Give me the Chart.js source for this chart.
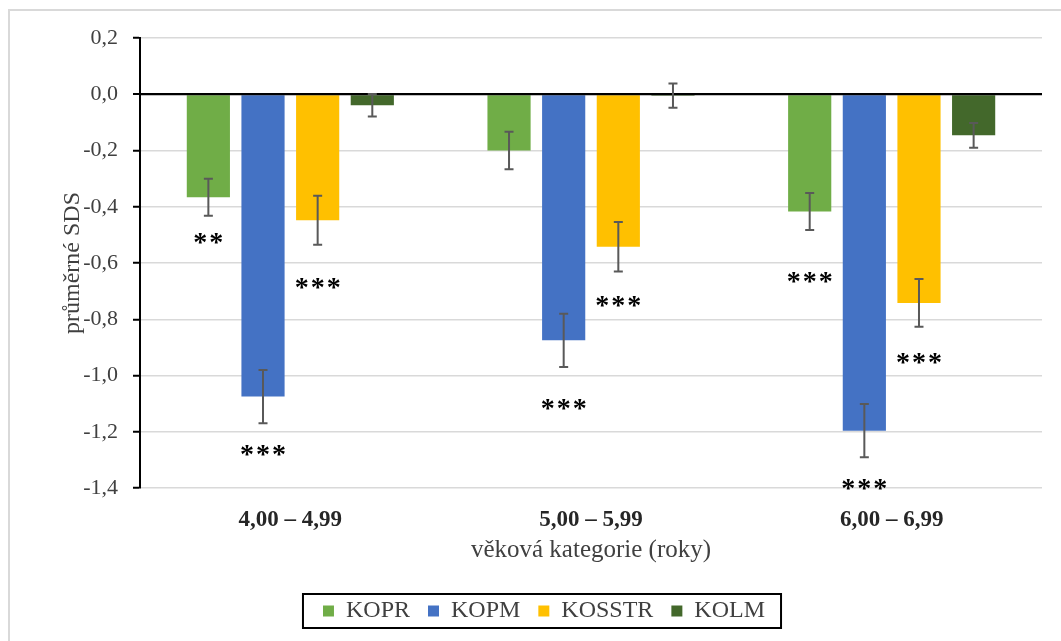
<!DOCTYPE html>
<html>
<head>
<meta charset="utf-8">
<script src="https://cdn.jsdelivr.net/npm/chart.js@4.4.1/dist/chart.umd.min.js"></script>
<style>
  html, body { margin: 0; padding: 0; background: #fff; }
  #wrap { width: 1061px; height: 641px; position: relative; }
</style>
</head>
<body>
<div id="wrap"><canvas id="sdsChart" width="1061" height="641"></canvas></div>
<script>
const categories = ["4,00 – 4,99", "5,00 – 5,99", "6,00 – 6,99"];

const kopr   = [-0.366, -0.200, -0.417];
const kopm   = [-1.075, -0.875, -1.196];
const kosstr = [-0.448, -0.542, -0.742];
const kolm   = [-0.039, -0.005, -0.146];

// error bar half-lengths
const koprErr   = [0.066, 0.067, 0.066];
const kopmErr   = [0.095, 0.095, 0.095];
const kosstrErr = [0.087, 0.088, 0.085];
const kolmErr   = [0.040, 0.043, 0.044];

// significance marks and where they sit (in SDS units)
const koprSig    = ["**", "", "***"];
const koprSigY   = [-0.51, null, -0.65];
const kopmSig    = ["***", "***", "***"];
const kopmSigY   = [-1.264, -1.10, -1.386];
const kosstrSig  = ["***", "***", "***"];
const kosstrSigY = [-0.671, -0.736, -0.939];
const kolmSig    = ["", "", ""];
const kolmSigY   = [null, null, null];

const yTicks = [0.2, 0.0, -0.2, -0.4, -0.6, -0.8, -1.0, -1.2, -1.4];

const serif = "'Liberation Serif', 'Times New Roman', serif";

const extras = {
  id: "extras",
  beforeDraw(chart) {
    const c = chart.ctx;
    c.save();
    c.fillStyle = "#fff";
    c.fillRect(0, 0, chart.width, chart.height);
    c.strokeStyle = "#d9d9d9";
    c.lineWidth = 2;
    c.beginPath();
    c.moveTo(9, chart.height + 5);
    c.lineTo(9, 10);
    c.lineTo(chart.width + 5, 10);
    c.stroke();
    c.restore();
  },
  afterDatasetsDraw(chart) {
    const c = chart.ctx;
    const y = chart.scales.y;
    const area = chart.chartArea;
    c.save();
    // zero line on top of bars
    const y0 = y.getPixelForValue(0);
    c.strokeStyle = "#000";
    c.lineWidth = 2;
    c.beginPath();
    c.moveTo(area.left, y0);
    c.lineTo(area.right, y0);
    c.stroke();

    chart.data.datasets.forEach((ds, i) => {
      const meta = chart.getDatasetMeta(i);
      meta.data.forEach((bar, j) => {
        const v = ds.data[j], e = ds.err[j];
        const top = y.getPixelForValue(v + e);
        const bot = y.getPixelForValue(v - e);
        c.strokeStyle = "#595959";
        c.lineWidth = 2;
        c.beginPath();
        c.moveTo(bar.x, top); c.lineTo(bar.x, bot);
        c.moveTo(bar.x - 4.5, top); c.lineTo(bar.x + 4.5, top);
        c.moveTo(bar.x - 4.5, bot); c.lineTo(bar.x + 4.5, bot);
        c.stroke();

        const s = ds.sig[j];
        if (s) {
          const sy = y.getPixelForValue(ds.sigY[j]);
          c.fillStyle = "#000";
          c.font = "bold 28px " + serif;
          c.textAlign = "center";
          c.textBaseline = "alphabetic";
          const n = s.length;
          for (let k = 0; k < n; k++) {
            c.fillText("*", bar.x + (k - (n - 1) / 2) * 16, sy + 13);
          }
        }
      });
    });
    c.restore();
  },
  afterDraw(chart) {
    const boxes = chart.legend.legendHitBoxes;
    if (!boxes || !boxes.length) return;
    const l = Math.min(...boxes.map(b => b.left));
    const r = Math.max(...boxes.map(b => b.left + b.width));
    const t = Math.min(...boxes.map(b => b.top));
    const h = Math.max(...boxes.map(b => b.height));
    const c = chart.ctx;
    c.save();
    c.strokeStyle = "#000";
    c.lineWidth = 2;
    c.strokeRect(l - 20, t + h / 2 - 17, (r - l) + 36, 34);
    c.restore();
  }
};

const ctx = document.getElementById("sdsChart");

new Chart(ctx, {
  type: "bar",
  data: {
    labels: categories,
    datasets: [
      { label: "KOPR",   data: kopr,   err: koprErr,   sig: koprSig,   sigY: koprSigY,   backgroundColor: "#70ad47" },
      { label: "KOPM",   data: kopm,   err: kopmErr,   sig: kopmSig,   sigY: kopmSigY,   backgroundColor: "#4472c4" },
      { label: "KOSSTR", data: kosstr, err: kosstrErr, sig: kosstrSig, sigY: kosstrSigY, backgroundColor: "#ffc000" },
      { label: "KOLM",   data: kolm,   err: kolmErr,   sig: kolmSig,   sigY: kolmSigY,   backgroundColor: "#43682b" }
    ]
  },
  options: {
    responsive: false,
    animation: false,
    devicePixelRatio: 1,
    categoryPercentage: 0.727,
    barPercentage: 0.79,
    layout: { padding: { left: 46, right: 19, top: 38, bottom: 8 } },
    plugins: {
      tooltip: { enabled: false },
      legend: {
        position: "bottom",
        labels: {
          font: { family: serif, size: 24 },
          color: "#404040",
          boxWidth: 11,
          boxHeight: 11,
          padding: 18
        }
      }
    },
    scales: {
      x: {
        grid: { display: false, drawTicks: false },
        border: { display: false },
        ticks: {
          font: { family: serif, size: 23, weight: "bold" },
          color: "#262626",
          padding: 18
        },
        title: {
          display: true,
          text: "věková kategorie (roky)",
          font: { family: serif, size: 25 },
          color: "#404040",
          padding: { top: 0, bottom: 16 }
        },
        afterFit(scale) { scale.height = 93; }
      },
      y: {
        min: -1.4,
        max: 0.2,
        afterBuildTicks(scale) { scale.ticks = yTicks.map(v => ({ value: v })); },
        ticks: {
          font: { family: serif, size: 22 },
          color: "#404040",
          padding: 15,
          callback(v) {
            const n = Math.abs(v) < 1e-9 ? 0 : v;
            return n.toFixed(1).replace(".", ",");
          }
        },
        grid: {
          color: c => Math.abs(c.tick.value) < 1e-9 ? "#000" : "#d9d9d9",
          lineWidth: c => Math.abs(c.tick.value) < 1e-9 ? 2 : 1.5,
          tickColor: "#000",
          tickLength: 7,
          tickWidth: 2
        },
        border: { color: "#000", width: 2 },
        title: {
          display: true,
          text: "průměrné SDS",
          font: { family: serif, size: 24 },
          color: "#404040",
          padding: { top: 12, bottom: 0 }
        },
        afterFit(scale) { scale.width = 94; }
      }
    }
  },
  plugins: [extras]
});
</script>
</body>
</html>
